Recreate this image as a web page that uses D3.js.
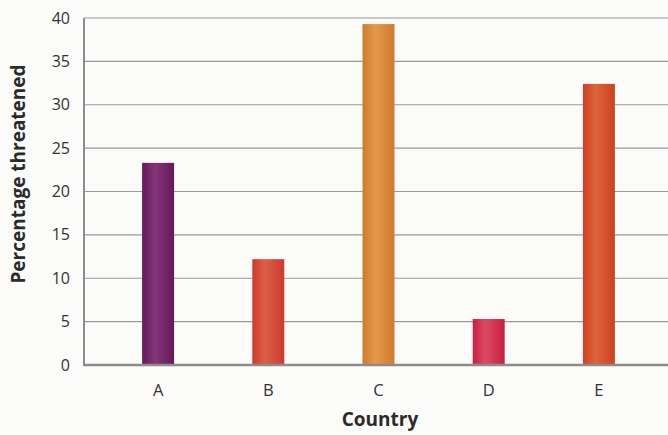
<!DOCTYPE html>
<html><head><meta charset="utf-8">
<script src="https://cdn.jsdelivr.net/npm/d3@7"></script>
<style>body{margin:0;background:#fbfbfa;}svg{display:block;}</style>
</head><body>
<script>
const categories = ["A","B","C","D","E"];
const values = [23.3, 12.2, 39.3, 5.3, 32.4];
const yTicks = [0,5,10,15,20,25,30,35,40];
const barColors = ["#651a57","#cc3a2c","#d07a2a","#c81f40","#cc421e"];
const barLight = ["#84357a","#dc6048","#e39a4c","#db4a64","#dc643c"];

const W = 668, H = 435;
const svg = d3.select("body").append("svg").attr("width", W).attr("height", H);
const mLeft = 84, mRight = 668, mTop = 18, mBottom = 365;

const y = d3.scaleLinear().domain([0,40]).range([mBottom, mTop]);
const x = d3.scaleBand().domain(categories).range([103, 654]).paddingInner(0.71).paddingOuter(0.355);

const defs = svg.append("defs");
categories.forEach((c,i)=>{
  const g = defs.append("linearGradient").attr("id","g"+i).attr("x1","0").attr("x2","1").attr("y1","0").attr("y2","0");
  g.append("stop").attr("offset","0").attr("stop-color",barColors[i]);
  g.append("stop").attr("offset","0.4").attr("stop-color",barLight[i]);
  g.append("stop").attr("offset","1").attr("stop-color",barColors[i]);
});

// gridlines
svg.append("g").selectAll("line").data(yTicks.filter(d=>d>0)).join("line")
  .attr("x1", mLeft).attr("x2", mRight).attr("y1", d=>y(d)).attr("y2", d=>y(d))
  .attr("stroke","#9a9a9a").attr("stroke-width",1.2);

// bars
svg.append("g").selectAll("rect").data(values).join("rect")
  .attr("x",(d,i)=>x(categories[i]))
  .attr("width", x.bandwidth())
  .attr("y", d=>y(d)).attr("height", d=>y(0)-y(d))
  .attr("fill",(d,i)=>"url(#g"+i+")");

// axes lines
svg.append("line").attr("x1",mLeft).attr("x2",mLeft).attr("y1",mTop).attr("y2",mBottom+1)
  .attr("stroke","#8c8c8c").attr("stroke-width",2);
svg.append("line").attr("x1",mLeft-1).attr("x2",mRight).attr("y1",mBottom).attr("y2",mBottom)
  .attr("stroke","#8c8c8c").attr("stroke-width",2.5);

// y tick labels
svg.append("g").selectAll("text").data(yTicks).join("text")
  .attr("x",70).attr("y",d=>y(d)).attr("dy","0.35em")
  .attr("text-anchor","end").attr("font-family","'Open Sans', sans-serif")
  .attr("font-size",16).attr("fill","#333").text(d=>d);

// x labels
svg.append("g").selectAll("text").data(categories).join("text")
  .attr("x",d=>x(d)+x.bandwidth()/2).attr("y",396)
  .attr("text-anchor","middle").attr("font-family","'Open Sans', sans-serif")
  .attr("font-size",16.5).attr("fill","#333").text(d=>d);

svg.append("text").attr("x",380).attr("y",426).attr("text-anchor","middle")
  .attr("font-family","'Open Sans', sans-serif").attr("font-weight","bold")
  .attr("font-size",19).attr("fill","#2a2a2a").text("Country");

svg.append("text").attr("transform","translate(25,174) rotate(-90)").attr("text-anchor","middle")
  .attr("font-family","'Open Sans', sans-serif").attr("font-weight","bold")
  .attr("font-size",19).attr("fill","#2a2a2a").text("Percentage threatened");
</script>
</body></html>
